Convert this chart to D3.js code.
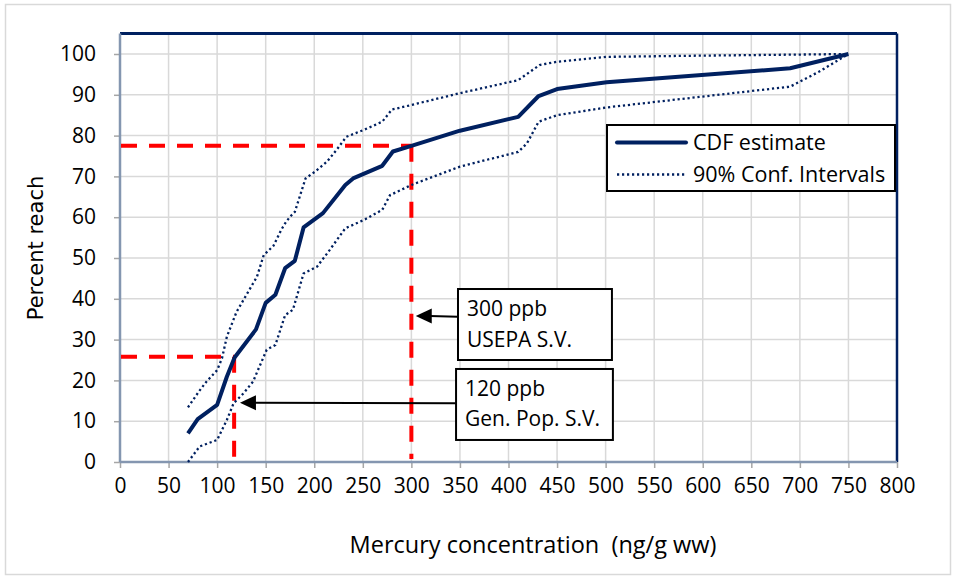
<!DOCTYPE html>
<html>
<head>
<meta charset="utf-8">
<script src="https://cdn.jsdelivr.net/npm/d3@7/dist/d3.min.js"></script>
<style>
  html, body { margin: 0; padding: 0; background: #fff; }
  svg { display: block; }
  text { font-family: "Open Sans", sans-serif; fill: #000; }
</style>
</head>
<body>
<svg id="chart" width="956" height="579"></svg>
<script>
// ---- data ----
const cdfX = [70, 80, 100, 110, 118, 140, 150, 160, 170, 180, 189, 209, 232, 240, 270, 281, 300, 350, 410, 431, 450, 501, 690, 750];
const cdfY = [7, 10.5, 14, 20.9, 25.6, 32.5, 39, 41, 47.5, 49.3, 57.5, 61, 67.9, 69.5, 72.6, 76.1, 77.5, 81.2, 84.6, 89.7, 91.4, 93.1, 96.5, 100];

const upperX = [70, 81, 89, 100, 105, 110, 120, 130, 141, 148, 158, 166, 170, 175, 180, 191, 201, 213, 223, 233, 251, 270, 280, 300, 350, 410, 432, 450, 501, 600, 750];
const upperY = [13.4, 17.2, 19.7, 22.5, 25.4, 30.7, 36.8, 40.9, 45.4, 50.7, 53, 56.9, 58.5, 60.1, 61.3, 69.5, 71.2, 73.6, 76.5, 79.7, 81.4, 83.4, 86.4, 87.5, 90.4, 93.6, 97.3, 98.1, 99.3, 99.6, 100];

const lowerX = [70, 82, 100, 110, 117, 127, 137, 142, 151, 160, 170, 178, 189, 203, 216, 232, 251, 270, 278, 300, 350, 410, 419, 431, 450, 501, 690, 720, 750];
const lowerY = [0, 3.8, 5.4, 10.3, 14.4, 16.8, 19.7, 22.5, 27.5, 28.7, 36, 37.3, 46.2, 47.9, 52, 57.3, 59.3, 61.8, 65.4, 67.9, 72.4, 76, 78.1, 83.4, 85, 86.9, 92, 95.7, 100];

const xTicks = [0, 50, 100, 150, 200, 250, 300, 350, 400, 450, 500, 550, 600, 650, 700, 750, 800];
const yTicks = [0, 10, 20, 30, 40, 50, 60, 70, 80, 90, 100];

// screening values: concentration and percent reach read at it
const refX = [300, 117.5];
const refY = [77.5, 25.8];

// annotation boxes (data units) and arrow tips
const noteLines = [["300 ppb", "USEPA S.V."], ["120 ppb", "Gen. Pop. S.V."]];
const noteBoxX0 = [348, 346];
const noteBoxX1 = [506.5, 507.5];
const noteBoxYTop = [42.4, 22.8];
const noteBoxYBot = [25, 5.4];
const arrowTipX = [304.5, 123.5];
const arrowTipY = [35.8, 14.5];

const legendLabels = ["CDF estimate", "90% Conf. Intervals"];

(function () {
// ---- layout ----
const svg = d3.select("#chart");
const pLeft = 120, pRight = 897, pTop = 33.6, pBottom = 462;
const x = d3.scaleLinear().domain([0, 800]).range([pLeft, pRight]);
const y = d3.scaleLinear().domain([0, 105]).range([pBottom, pTop]);
const navy = "#002060";

// outer frame
svg.append("rect").attr("x", 5.5).attr("y", 4.5).attr("width", 945).attr("height", 570)
  .attr("fill", "#fff").attr("stroke", "#d9d9d9").attr("stroke-width", 1.5);

// gridlines
svg.append("g").selectAll("line").data(xTicks.slice(1, -1)).join("line")
  .attr("x1", d => x(d)).attr("x2", d => x(d)).attr("y1", pTop).attr("y2", pBottom)
  .attr("stroke", "#d9d9d9").attr("stroke-width", 1.5);
svg.append("g").selectAll("line").data(yTicks.slice(1)).join("line")
  .attr("x1", pLeft).attr("x2", pRight).attr("y1", d => y(d)).attr("y2", d => y(d))
  .attr("stroke", "#d9d9d9").attr("stroke-width", 1.5);

// axes
const xAxis = d3.axisBottom(x).tickValues(xTicks).tickSize(6).tickPadding(10).tickFormat(d3.format("d"));
const gx = svg.append("g").attr("transform", `translate(0,${pBottom})`).call(xAxis);
gx.select(".domain").remove();
gx.selectAll(".tick line").attr("stroke", "#a6a6a6").attr("stroke-width", 1.5);
gx.selectAll(".tick text").style("font-family", "'Open Sans', sans-serif").style("font-size", "21px").attr("fill", "#000");

const yAxis = d3.axisLeft(y).tickValues(yTicks).tickSize(6).tickPadding(18).tickFormat(d3.format("d"));
const gy = svg.append("g").attr("transform", `translate(${pLeft},0)`).call(yAxis);
gy.select(".domain").remove();
gy.selectAll(".tick line").attr("stroke", "#a6a6a6").attr("stroke-width", 1.5);
gy.selectAll(".tick text").style("font-family", "'Open Sans', sans-serif").style("font-size", "21px").attr("fill", "#000");

// plot borders
svg.append("line").attr("x1", pLeft).attr("x2", pRight).attr("y1", pTop).attr("y2", pTop)
  .attr("stroke", navy).attr("stroke-width", 3);
svg.append("line").attr("x1", pRight).attr("x2", pRight).attr("y1", pTop).attr("y2", pBottom)
  .attr("stroke", navy).attr("stroke-width", 2.5);
svg.append("line").attr("x1", pLeft).attr("x2", pLeft).attr("y1", pTop).attr("y2", pBottom)
  .attr("stroke", "#8496b0").attr("stroke-width", 2.5);
svg.append("line").attr("x1", pLeft).attr("x2", pRight).attr("y1", pBottom).attr("y2", pBottom)
  .attr("stroke", "#8496b0").attr("stroke-width", 2.5);

// red dashed reference lines
const refG = svg.append("g");
refX.forEach((rx, i) => {
  refG.append("line").attr("x1", pLeft + 1).attr("x2", x(rx)).attr("y1", y(refY[i])).attr("y2", y(refY[i]))
    .attr("stroke", "#ff0000").attr("stroke-width", 4).attr("stroke-dasharray", "16,12");
  refG.append("line").attr("x1", x(rx)).attr("x2", x(rx)).attr("y1", y(refY[i])).attr("y2", pBottom - 3)
    .attr("stroke", "#ff0000").attr("stroke-width", 4).attr("stroke-dasharray", "16,12");
});

// series lines
const line = d3.line().x(d => x(d[0])).y(d => y(d[1]));
const zip = (a, b) => a.map((v, i) => [v, b[i]]);
svg.append("path").datum(zip(upperX, upperY)).attr("d", line)
  .attr("fill", "none").attr("stroke", navy).attr("stroke-width", 2.3).attr("stroke-dasharray", "2.2,2.8");
svg.append("path").datum(zip(lowerX, lowerY)).attr("d", line)
  .attr("fill", "none").attr("stroke", navy).attr("stroke-width", 2.3).attr("stroke-dasharray", "2.2,2.8");
svg.append("path").datum(zip(cdfX, cdfY)).attr("d", line)
  .attr("fill", "none").attr("stroke", navy).attr("stroke-width", 4).attr("stroke-linejoin", "round");

// annotations
noteLines.forEach((lines, i) => {
  const bx0 = x(noteBoxX0[i]), bx1 = x(noteBoxX1[i]);
  const by0 = y(noteBoxYTop[i]), by1 = y(noteBoxYBot[i]);
  svg.append("line").attr("x1", x(arrowTipX[i]) + 14).attr("y1", y(arrowTipY[i]))
    .attr("x2", bx0).attr("y2", y(arrowTipY[i]) + (i === 0 ? 0.8 : 0.3))
    .attr("stroke", "#000").attr("stroke-width", 2);
  svg.append("path")
    .attr("d", `M${x(arrowTipX[i])},${y(arrowTipY[i])} l16,-7.5 l0,15 Z`)
    .attr("fill", "#000");
  svg.append("rect").attr("x", bx0).attr("y", by0).attr("width", bx1 - bx0).attr("height", by1 - by0)
    .attr("fill", "#fff").attr("stroke", "#000").attr("stroke-width", 2);
  lines.forEach((t, j) => {
    svg.append("text").attr("x", bx0 + 9).attr("y", by0 + 27 + j * 30.5)
      .style("font-size", "21px").text(t);
  });
});

// legend
const lg = svg.append("g");
lg.append("rect").attr("x", 607).attr("y", 125).attr("width", 288).attr("height", 66)
  .attr("fill", "#fff").attr("stroke", "#000").attr("stroke-width", 2);
lg.append("line").attr("x1", 617).attr("x2", 686).attr("y1", 142.5).attr("y2", 142.5)
  .attr("stroke", navy).attr("stroke-width", 4).attr("stroke-linecap", "round");
lg.append("line").attr("x1", 617).attr("x2", 686).attr("y1", 174.5).attr("y2", 174.5)
  .attr("stroke", navy).attr("stroke-width", 2.3).attr("stroke-dasharray", "2.2,2.8");
legendLabels.forEach((t, i) => {
  lg.append("text").attr("x", 693).attr("y", 150 + i * 32).style("font-size", "21.5px").text(t);
});

// axis titles
svg.append("text").attr("x", 533).attr("y", 553).attr("text-anchor", "middle")
  .style("font-size", "23.5px").style("white-space", "pre")
  .text("Mercury concentration  (ng/g ww)");
svg.append("text").attr("transform", "translate(43,248) rotate(-90)").attr("text-anchor", "middle")
  .style("font-family", "'DejaVu Sans', sans-serif").style("font-size", "21px")
  .text("Percent reach");
})();
</script>
</body>
</html>
